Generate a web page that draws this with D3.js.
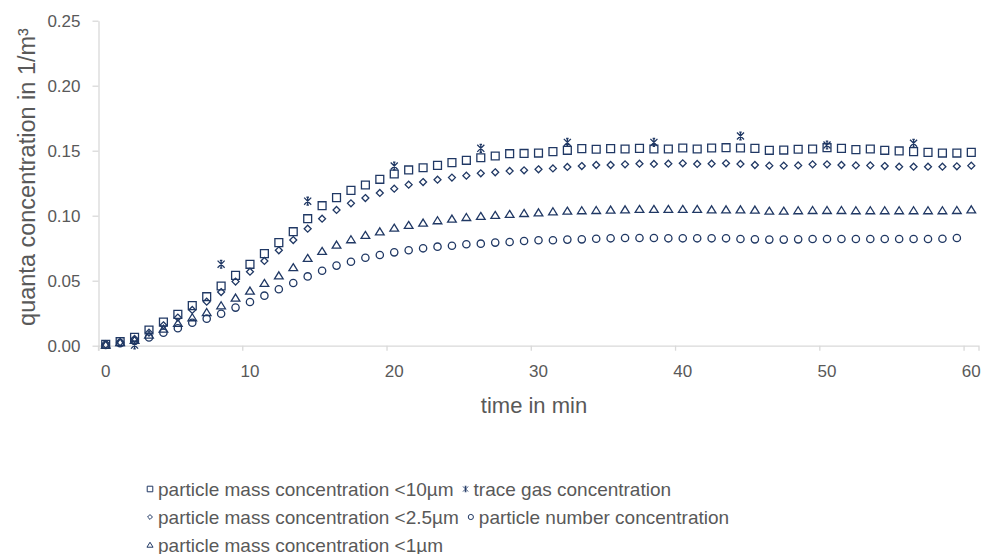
<!DOCTYPE html>
<meta charset="utf-8">
<style>
body { margin: 0; background: #fff; }
svg { font-family: "Liberation Sans", Arial, sans-serif; }
.axis .tick text { fill: #595959; font-size: 17px; }
.axis path, .axis line { stroke: #d9d9d9; stroke-width: 1.3; }
.ttl { fill: #595959; font-size: 22px; }
.leg { fill: #595959; font-size: 19px; }
.mk { fill: none; stroke: #203864; stroke-width: 1.3; }
</style>
<svg width="984" height="554"></svg>
<script src="https://d3js.org/d3.v7.min.js"></script>
<script>
// time in min (one category per minute)
var minutes = [0,1,2,3,4,5,6,7,8,9,10,11,12,13,14,15,16,17,18,19,20,
  21,22,23,24,25,26,27,28,29,30,31,32,33,34,35,36,37,38,39,40,
  41,42,43,44,45,46,47,48,49,50,51,52,53,54,55,56,57,58,59,60];
var xTicks = [0,10,20,30,40,50,60];
var yTicks = [0,0.05,0.10,0.15,0.20,0.25];

// particle mass concentration <10µm
var pm10 = [0.0010,0.0031,0.0064,0.0121,0.0182,0.0241,0.0308,0.0377,0.0459,0.0541,
  0.0626,0.0708,0.0793,0.0877,0.0977,0.1077,0.1139,0.1195,0.1236,0.1280,
  0.1321,0.1352,0.1369,0.1387,0.1408,0.1426,0.1446,0.1459,0.1477,0.1479,
  0.1482,0.1493,0.1503,0.1516,0.1511,0.1516,0.1513,0.1518,0.1513,0.1513,
  0.1521,0.1513,0.1521,0.1523,0.1521,0.1518,0.1503,0.1505,0.1511,0.1513,
  0.1523,0.1518,0.1508,0.1513,0.1503,0.1498,0.1493,0.1487,0.1482,0.1482,0.1487];
// particle mass concentration <2.5µm
var pm25 = [0.0008,0.0026,0.0053,0.0100,0.0157,0.0216,0.0275,0.0339,0.0413,0.0493,
  0.0569,0.0652,0.0734,0.0813,0.0900,0.0977,0.1044,0.1095,0.1136,0.1175,
  0.1208,0.1239,0.1259,0.1277,0.1293,0.1308,0.1326,0.1334,0.1344,0.1349,
  0.1357,0.1364,0.1375,0.1382,0.1390,0.1390,0.1395,0.1400,0.1398,0.1400,
  0.1403,0.1398,0.1400,0.1403,0.1398,0.1390,0.1385,0.1385,0.1387,0.1395,
  0.1395,0.1390,0.1387,0.1387,0.1382,0.1377,0.1377,0.1377,0.1377,0.1380,0.1385];
// particle mass concentration <1µm
var pm1 = [0.0006,0.0024,0.0043,0.0082,0.0128,0.0172,0.0216,0.0256,0.0308,0.0367,
  0.0421,0.0480,0.0538,0.0601,0.0672,0.0726,0.0775,0.0816,0.0849,0.0877,
  0.0905,0.0926,0.0944,0.0962,0.0975,0.0987,0.0995,0.1003,0.1011,0.1018,
  0.1023,0.1031,0.1036,0.1039,0.1041,0.1044,0.1046,0.1049,0.1049,0.1049,
  0.1049,0.1049,0.1046,0.1046,0.1046,0.1044,0.1036,0.1036,0.1039,0.1041,
  0.1041,0.1041,0.1039,0.1039,0.1039,0.1039,0.1039,0.1039,0.1039,0.1041,0.1046];
// particle number concentration (0..59 min)
var pNumber = [0.0006,0.0020,0.0036,0.0064,0.0100,0.0134,0.0177,0.0208,0.0246,0.0293,
  0.0336,0.0385,0.0434,0.0482,0.0533,0.0577,0.0616,0.0646,0.0677,0.0698,
  0.0718,0.0734,0.0749,0.0762,0.0769,0.0780,0.0785,0.0793,0.0798,0.0805,
  0.0811,0.0811,0.0816,0.0818,0.0823,0.0826,0.0828,0.0828,0.0828,0.0826,
  0.0826,0.0826,0.0826,0.0826,0.0821,0.0818,0.0816,0.0816,0.0818,0.0821,
  0.0821,0.0821,0.0821,0.0821,0.0821,0.0821,0.0821,0.0821,0.0823,0.0828];
// trace gas concentration
var traceMin = [2,8,14,20,26,32,38,44,50,56];
var traceGas = [0.0005,0.0627,0.1112,0.1382,0.1518,0.1564,0.1564,0.1613,0.1544,0.1557];

var legendNames = ["particle mass concentration <10µm", "trace gas concentration",
  "particle mass concentration <2.5µm", "particle number concentration",
  "particle mass concentration <1µm"];

// custom marker shapes
var rhombus = { draw: function(c, s) { var r = Math.sqrt(s / 2);
  c.moveTo(0, -r); c.lineTo(r, 0); c.lineTo(0, r); c.lineTo(-r, 0); c.closePath(); } };
var star = { draw: function(c, s) { var r = Math.sqrt(s) / 2;
  c.moveTo(-r, -r); c.lineTo(r, r); c.moveTo(r, -r); c.lineTo(-r, r);
  c.moveTo(0, -r * 1.1); c.lineTo(0, r * 1.1);
  c.moveTo(-r * 0.35, -r * 1.1); c.lineTo(r * 0.35, -r * 1.1);
  c.moveTo(-r * 0.35, r * 1.1); c.lineTo(r * 0.35, r * 1.1); } };
var tri = { draw: function(c, s) { var w = Math.sqrt(s) * 0.55, h = w * 0.9;
  c.moveTo(0, -h); c.lineTo(w, h * 0.8); c.lineTo(-w, h * 0.8); c.closePath(); } };

var series = [
  { name: legendNames[0], t: minutes, v: pm10, type: d3.symbolSquare, size: 62 },
  { name: legendNames[2], t: minutes, v: pm25, type: rhombus, size: 24 },
  { name: legendNames[4], t: minutes, v: pm1, type: tri, size: 62 },
  { name: legendNames[3], t: minutes.slice(0, pNumber.length), v: pNumber, type: d3.symbolCircle, size: 42 },
  { name: legendNames[1], t: traceMin, v: traceGas, type: star, size: 50 }
];

var svg = d3.select("svg");
var x = d3.scaleBand().domain(minutes).range([98.5, 978.5]);
var y = d3.scaleLinear().domain([0, 0.25]).range([345.7, 20.7]);
var bw = x.bandwidth();

// y axis
svg.append("g").attr("class", "axis")
  .attr("transform", "translate(98.5,0)")
  .call(d3.axisLeft(y).tickValues(yTicks).tickFormat(d3.format(".2f"))
    .tickSize(6).tickSizeOuter(0).tickPadding(12));

// x axis: ticks on category boundaries, labels centred
var gx = svg.append("g").attr("class", "axis")
  .attr("transform", "translate(0,345.7)")
  .call(d3.axisBottom(x).tickValues(xTicks).tickSizeOuter(0).tickSize(5).tickPadding(14));
gx.selectAll(".tick line").attr("x1", -bw / 2).attr("x2", -bw / 2);

svg.selectAll(".axis").attr("font-family", null).attr("font-size", null);

// titles
svg.append("text").attr("class", "ttl")
  .attr("transform", "translate(35,177) rotate(-90)")
  .attr("text-anchor", "middle")
  .style("font-size", "23.5px")
  .text("quanta concentration in 1/m³");
svg.append("text").attr("class", "ttl")
  .attr("x", 534).attr("y", 413)
  .attr("text-anchor", "middle")
  .text("time in min");

// markers
series.forEach(function(s) {
  var sym = d3.symbol().type(s.type).size(s.size);
  svg.append("g").selectAll("path").data(s.v).enter().append("path")
    .attr("class", "mk")
    .attr("transform", function(d, i) {
      return "translate(" + (x(s.t[i]) + bw / 2) + "," + y(d) + ")"; })
    .attr("d", sym);
});

// legend
var rows = [[series[0], series[4]], [series[1], series[3]], [series[2]]];
var legY = [489, 517, 545];
rows.forEach(function(row, r) {
  var lx = 150;
  row.forEach(function(s) {
    var g = svg.append("g").attr("transform", "translate(" + lx + "," + legY[r] + ")");
    g.append("path").attr("class", "mk").style("stroke-width", 1)
      .attr("d", d3.symbol().type(s.type).size(s.size * 0.5));
    var t = g.append("text").attr("class", "leg")
      .attr("x", 8).attr("y", 6.5).text(s.name);
    lx += 8 + t.node().getComputedTextLength() + 12;
  });
});
</script>
